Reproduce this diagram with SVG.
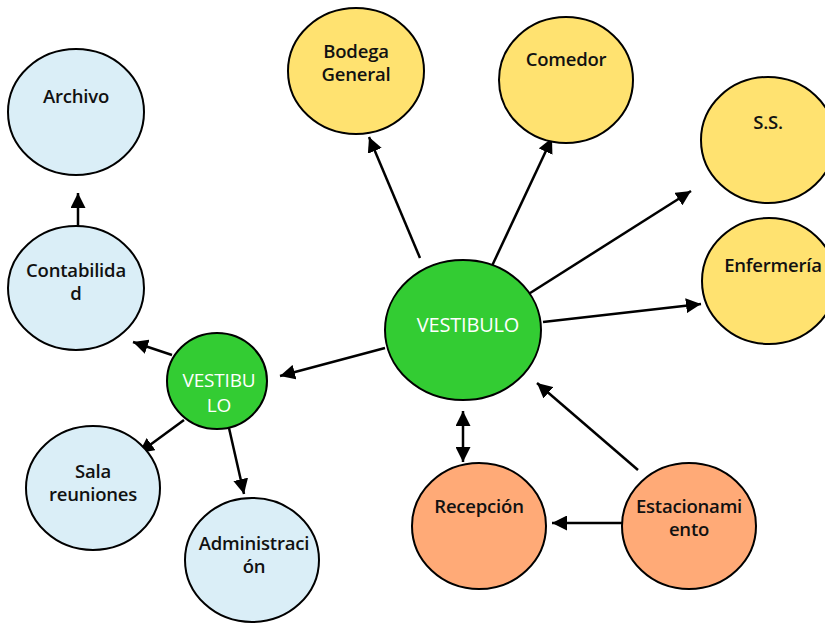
<svg xmlns="http://www.w3.org/2000/svg" width="825" height="623" viewBox="0 0 825 623">
  <style>
    .node { stroke: #000; stroke-width: 2; }
    .blue { fill: #DAEEF7; }
    .green { fill: #33CC33; }
    .yellow { fill: #FFE270; }
    .orange { fill: #FFAA77; }
    text { font-family: "Open Sans", "Liberation Sans", sans-serif; font-weight: 600; font-size: 18.5px; letter-spacing: -0.2px; text-anchor: middle; fill: #111; }
    text.light { fill: #fff; font-weight: normal; font-size: 20px; }
    text.light.small { font-size: 19px; }
    .link { stroke: #000; stroke-width: 2.5; fill: none; marker-end: url(#head); }
  </style>
  <defs>
    <marker id="head" viewBox="0 0 10 10" refX="10" refY="5" markerWidth="6" markerHeight="6" markerUnits="strokeWidth" orient="auto-start-reverse">
      <path d="M0,0 L10,5 L0,10 z" fill="#000"/>
    </marker>
  </defs>

  <g id="connectors">
    <line class="link" x1="78" y1="227" x2="78" y2="193"/>
    <line class="link" x1="172" y1="355" x2="133" y2="342"/>
    <line class="link" x1="184" y1="420" x2="139" y2="453"/>
    <line class="link" x1="229" y1="428" x2="244" y2="494"/>
    <line class="link" x1="385" y1="348" x2="280" y2="376"/>
    <line class="link" x1="420" y1="258" x2="369" y2="137"/>
    <line class="link" x1="491" y1="268" x2="552" y2="138"/>
    <line class="link" x1="527" y1="295" x2="691" y2="191"/>
    <line class="link" x1="543" y1="322" x2="701" y2="304"/>
    <line class="link" x1="463" y1="411" x2="463" y2="462" style="marker-start: url(#head)"/>
    <line class="link" x1="638" y1="470" x2="537" y2="383"/>
    <line class="link" x1="622" y1="523" x2="552" y2="523"/>
  </g>

  <g id="archivo">
    <ellipse class="node blue" cx="76" cy="112" rx="68" ry="63"/>
    <text x="76" y="103">Archivo</text>
  </g>
  <g id="contabilidad">
    <ellipse class="node blue" cx="76" cy="288" rx="68" ry="62"/>
    <text x="76" y="277">Contabilida</text>
    <text x="76" y="300">d</text>
  </g>
  <g id="vestibulo-secundario">
    <ellipse class="node green" cx="217" cy="381" rx="50" ry="48"/>
    <text class="light small" x="219" y="387">VESTIBU</text>
    <text class="light small" x="219" y="412">LO</text>
  </g>
  <g id="sala-reuniones">
    <ellipse class="node blue" cx="93" cy="488" rx="67" ry="62"/>
    <text x="93" y="478">Sala</text>
    <text x="93" y="501">reuniones</text>
  </g>
  <g id="administracion">
    <ellipse class="node blue" cx="252" cy="560" rx="67" ry="62"/>
    <text x="254" y="550">Administraci</text>
    <text x="254" y="573">ón</text>
  </g>
  <g id="vestibulo">
    <ellipse class="node green" cx="463" cy="330" rx="78" ry="70"/>
    <text class="light" x="468" y="332">VESTIBULO</text>
  </g>
  <g id="bodega-general">
    <ellipse class="node yellow" cx="356" cy="71" rx="68" ry="63"/>
    <text x="356" y="58">Bodega</text>
    <text x="356" y="81">General</text>
  </g>
  <g id="comedor">
    <ellipse class="node yellow" cx="566" cy="80" rx="67" ry="63"/>
    <text x="566" y="66">Comedor</text>
  </g>
  <g id="ss">
    <ellipse class="node yellow" cx="768" cy="140" rx="67" ry="63"/>
    <text x="768" y="129">S.S.</text>
  </g>
  <g id="enfermeria">
    <ellipse class="node yellow" cx="769" cy="281" rx="67" ry="63"/>
    <text x="773" y="272">Enfermería</text>
  </g>
  <g id="recepcion">
    <ellipse class="node orange" cx="479" cy="526" rx="67" ry="63"/>
    <text x="479" y="513">Recepción</text>
  </g>
  <g id="estacionamiento">
    <ellipse class="node orange" cx="689" cy="526" rx="67" ry="63"/>
    <text x="689" y="513">Estacionami</text>
    <text x="689" y="536">ento</text>
  </g>
</svg>
